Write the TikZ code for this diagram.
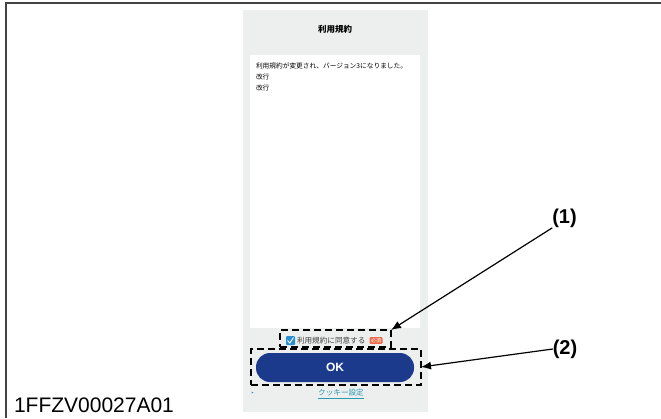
\documentclass[tikz,border=0pt]{standalone}
\usepackage{fontspec}
\setmainfont{Liberation Sans}
\newfontfamily\jpfont{Noto Sans CJK JP}
\usetikzlibrary{arrows.meta}
\definecolor{panelgray}{HTML}{EDEEEE}
\definecolor{okblue}{HTML}{1B3A8C}
\definecolor{checkblue}{HTML}{2A8FD0}
\definecolor{badgered}{HTML}{EE6A4A}
\definecolor{linkteal}{HTML}{2A9AAE}
\definecolor{framegray}{HTML}{444444}
\begin{document}
\begin{tikzpicture}[x=1pt,y=-1pt,every node/.style={inner sep=0pt,outer sep=0pt},
  callout/.style={draw=black,line width=1.7pt,dash pattern=on 7pt off 4pt},
  pointer/.style={draw=black,line width=1.2pt,-{Latex[length=10pt,width=8pt]}},
  tag/.style={font=\bfseries\fontsize{20}{20}\selectfont}]
  \useasboundingbox (0,0) rectangle (661,418);

  % Rahmen oben und links
  \draw[framegray,line width=2pt] (6,418) -- (6,3) -- (661,3);

  % Bildschirm
  \fill[panelgray] (243,10) rectangle (428,412);
  \node[font=\jpfont\bfseries\fontsize{8.5}{8.5}\selectfont] (title) at (335,29) {利用規約};
  \fill[white] (250,55) rectangle (420,328);
  \node[anchor=west,font=\jpfont\fontsize{6.7}{6.7}\selectfont] (line1) at (256,66) {利用規約が変更され、バージョン3になりました。};
  \node[anchor=west,font=\jpfont\fontsize{6.7}{6.7}\selectfont] (line2) at (256,77) {改行};
  \node[anchor=west,font=\jpfont\fontsize{6.7}{6.7}\selectfont] (line3) at (256,88) {改行};

  % Zustimmung
  \node[fill=checkblue,minimum size=9pt,rounded corners=1pt] (check) at (290.5,340.5) {};
  \draw[white,line width=0.9pt] (287.5,340.5) -- (289.8,343) -- (293.5,337.5);
  \node[anchor=west,font=\jpfont\fontsize{7.6}{7.6}\selectfont,text=black!75] (agree) at (297,340.5) {利用規約に同意する};
  \node[fill=badgered,text=white,rounded corners=1pt,inner xsep=1.5pt,inner ysep=1pt,
        font=\jpfont\fontsize{5}{5}\selectfont,anchor=west] (badge) at (369.5,340.5) {必須};

  % OK-Knopf
  \node[fill=okblue,text=white,rounded corners=14pt,minimum width=158pt,minimum height=29pt,
        font=\bfseries\fontsize{12}{12}\selectfont] (ok) at (335,367.5) {OK};
  \node[font=\jpfont\fontsize{7.6}{7.6}\selectfont,text=linkteal] (cookie) at (341,394) {\underline{クッキー設定}};
  \fill[linkteal] (251.5,391.5) -- (253.5,392.5) -- (251.5,393.5) -- cycle;

  % Markierungen
  \node[callout,minimum width=111pt,minimum height=17pt] (box1) at (335.5,338.5) {};
  \node[callout,minimum width=170pt,minimum height=36pt] (box2) at (336,367) {};

  % Beschriftungen
  \node[tag] (n1) at (564.5,218.5) {(1)};
  \node[tag] (n2) at (565,349) {(2)};
  \draw[pointer] (n1.south west) -- (box1.north east);
  \draw[pointer] (n2.west) -- (box2.east);

  \node[anchor=base west,font=\fontsize{21}{21}\selectfont] (id) at (14,412) {1FFZV00027A01};
\end{tikzpicture}
\end{document}
